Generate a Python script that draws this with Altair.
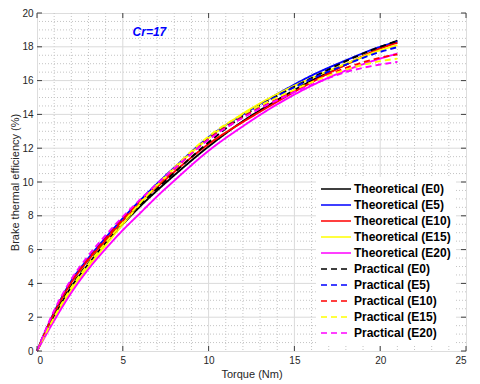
import altair as alt
import pandas as pd

torque = [0, 1, 2, 3, 4, 5, 6, 7, 8, 10, 12, 14, 16, 18, 20, 21]

th_E0 = [0, 2.05, 3.8, 5.15, 6.4, 7.5, 8.55, 9.5, 10.4, 12.1, 13.6, 14.85, 16.0, 16.95, 17.9, 18.37]
th_E5 = [0, 2.3, 4.15, 5.5, 6.7, 7.85, 8.9, 9.9, 10.85, 12.65, 14.0, 15.2, 16.3, 17.2, 18.0, 18.3]
th_E10 = [0, 2.25, 4.05, 5.4, 6.55, 7.7, 8.75, 9.7, 10.6, 12.25, 13.55, 14.75, 15.9, 16.95, 17.9, 18.24]
th_E15 = [0, 1.9, 3.6, 5.0, 6.25, 7.5, 8.7, 9.8, 10.8, 12.6, 14.05, 15.2, 16.15, 17.0, 17.8, 18.1]
th_E20 = [0, 1.8, 3.45, 4.85, 6.05, 7.15, 8.15, 9.15, 10.08, 11.85, 13.3, 14.6, 15.7, 16.6, 17.3, 17.6]
pr_E0 = [0, 2.1, 3.85, 5.2, 6.4, 7.6, 8.65, 9.6, 10.55, 12.35, 13.9, 15.1, 16.15, 17.15, 18.0, 18.35]
pr_E5 = [0, 2.3, 4.15, 5.5, 6.7, 7.85, 8.9, 9.9, 10.85, 12.6, 13.95, 15.1, 16.1, 16.95, 17.7, 17.98]
pr_E10 = [0, 2.3, 4.1, 5.45, 6.65, 7.8, 8.85, 9.8, 10.75, 12.55, 13.85, 14.9, 15.9, 16.75, 17.35, 17.55]
pr_E15 = [0, 2.0, 3.75, 5.15, 6.4, 7.6, 8.75, 9.85, 10.85, 12.7, 14.0, 15.0, 15.9, 16.65, 17.15, 17.3]
pr_E20 = [0, 2.4, 4.25, 5.65, 6.85, 7.95, 8.95, 9.9, 10.8, 12.5, 13.8, 14.85, 15.75, 16.5, 16.95, 17.1]

series_names = [
    "Theoretical (E0)", "Theoretical (E5)", "Theoretical (E10)", "Theoretical (E15)", "Theoretical (E20)",
    "Practical (E0)", "Practical (E5)", "Practical (E10)", "Practical (E15)", "Practical (E20)",
]
series_values = [th_E0, th_E5, th_E10, th_E15, th_E20, pr_E0, pr_E5, pr_E10, pr_E15, pr_E20]
series_colors = ["#000000", "#0000ff", "#ff0000", "#ffff00", "#ff00ff"] * 2
series_dashes = [[1, 0]] * 5 + [[6, 4]] * 5

x_major = [0, 5, 10, 15, 20, 25]
y_major = [0, 2, 4, 6, 8, 10, 12, 14, 16, 18, 20]
x_grid = [5, 10, 15, 20]
y_grid = [2, 4, 6, 8, 10, 12, 14, 16, 18]
x_minor = [1, 2, 3, 4, 6, 7, 8, 9, 11, 12, 13, 14, 16, 17, 18, 19, 21, 22, 23, 24]
y_minor = [v / 2 for v in range(1, 40) if v % 4 != 0]

annot_text = ["Cr=17"]
annot_x = [6.55]
annot_y = [18.85]

W, H = 429, 338
FONT = "Liberation Sans"

rows = []
for name, vals in zip(series_names, series_values):
    for t, v in zip(torque, vals):
        rows.append({"series": name, "torque": t, "bte": v})
df = pd.DataFrame(rows)

xs = alt.Scale(domain=[0, 25], nice=False, zero=False)
ys = alt.Scale(domain=[0, 20], nice=False, zero=False)

x_axis = alt.Axis(values=x_major, grid=False, ticks=False, domain=False,
                  labelFont=FONT, labelFontSize=10, labelColor="#262626", labelPadding=4,
                  title="Torque (Nm)", titleFont=FONT, titleFontSize=11, titleFontWeight="normal",
                  titleColor="#262626", titlePadding=3)
y_axis = alt.Axis(values=y_major, grid=False, ticks=False, domain=False,
                  labelFont=FONT, labelFontSize=10, labelColor="#262626", labelPadding=4,
                  title="Brake thermal efficiency (%)", titleFont=FONT, titleFontSize=11,
                  titleFontWeight="normal", titleColor="#262626", titlePadding=1)


def X(field):
    return alt.X(field, scale=xs, axis=x_axis, title="Torque (Nm)")


def Y(field):
    return alt.Y(field, scale=ys, axis=y_axis, title="Brake thermal efficiency (%)")


minor_x = alt.Chart(pd.DataFrame({"v": x_minor})).mark_rule(
    color="#c4c4c4", strokeDash=[1, 2], strokeWidth=1).encode(x=X("v:Q"))
minor_y = alt.Chart(pd.DataFrame({"v": y_minor})).mark_rule(
    color="#c4c4c4", strokeDash=[1, 2], strokeWidth=1).encode(y=Y("v:Q"))
major_x = alt.Chart(pd.DataFrame({"v": x_grid})).mark_rule(
    color="#dadada", strokeWidth=1).encode(x=X("v:Q"))
major_y = alt.Chart(pd.DataFrame({"v": y_grid})).mark_rule(
    color="#dadada", strokeWidth=1).encode(y=Y("v:Q"))

tick_col = "#404040"
ticks_left = alt.Chart(pd.DataFrame({"v": y_major})).mark_rule(color=tick_col).encode(
    y=Y("v:Q"), x=alt.value(0), x2=alt.value(5))
ticks_right = alt.Chart(pd.DataFrame({"v": y_major})).mark_rule(color=tick_col).encode(
    y=Y("v:Q"), x=alt.value(W - 5), x2=alt.value(W))
ticks_bottom = alt.Chart(pd.DataFrame({"v": x_major})).mark_rule(color=tick_col).encode(
    x=X("v:Q"), y=alt.value(H - 5), y2=alt.value(H))
ticks_top = alt.Chart(pd.DataFrame({"v": x_major})).mark_rule(color=tick_col).encode(
    x=X("v:Q"), y=alt.value(0), y2=alt.value(5))

legend = alt.Legend(
    title=None, orient="none", legendX=279, legendY=164, padding=4,
    fillColor="white", strokeColor="white",
    labelFont=FONT, labelFontWeight="bold", labelFontSize=12, labelColor="#000000",
    symbolType="stroke", symbolSize=900, symbolStrokeWidth=1.5, clipHeight=16,
    rowPadding=0, labelOffset=2,
)

lines = alt.Chart(df).mark_line(strokeWidth=1.9, interpolate="monotone").encode(
    x=X("torque:Q"),
    y=Y("bte:Q"),
    color=alt.Color("series:N", scale=alt.Scale(domain=series_names, range=series_colors),
                    sort=series_names, legend=legend),
    strokeDash=alt.StrokeDash("series:N", scale=alt.Scale(domain=series_names, range=series_dashes),
                              sort=series_names, legend=legend),
)

annot = alt.Chart(pd.DataFrame({"t": annot_text, "x": annot_x, "y": annot_y})).mark_text(
    font=FONT, fontSize=12, fontWeight="bold", fontStyle="italic", color="#0000ff"
).encode(x=X("x:Q"), y=Y("y:Q"), text="t:N")

chart = alt.layer(
    minor_x, minor_y, major_x, major_y, lines, ticks_left, ticks_right, ticks_bottom, ticks_top, annot
).properties(
    width=W, height=H,
    padding={"left": 29, "top": 5, "right": 6, "bottom": 33},
    autosize=alt.AutoSizeParams(type="none"),
).configure_view(stroke="#404040", strokeWidth=1).configure(background="white")

chart.save("out.html", embed_options={"renderer": "svg", "actions": False})
